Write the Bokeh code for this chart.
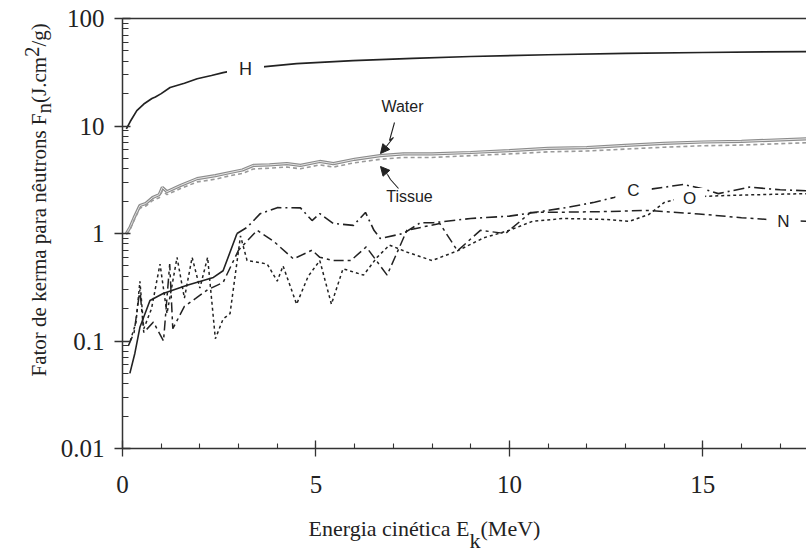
import math
from bokeh.plotting import figure
from bokeh.layouts import row, column
from bokeh.models import (FixedTicker, LinearAxis, Label, Arrow, NormalHead,
                          CustomJSTickFormatter, Range1d)
from bokeh.core.properties import value
from bokeh.embed import file_html
from bokeh.resources import INLINE

# ---------------- data ----------------
X_TICKS = [0, 5, 10, 15]
Y_TICKS = [0.01, 0.1, 1, 10, 100]

H_E = [0.1, 0.2, 0.37, 0.55, 0.76, 0.85, 1.0, 1.23, 1.6, 1.93, 2.3, 2.6, 3.0, 3.69, 4.5, 5.96, 7.5, 9.0, 11.0, 13.0, 15.0, 17.7]
H_F = [9.4, 11.0, 13.9, 16.0, 18.0, 18.6, 20.0, 22.8, 25.0, 27.5, 29.5, 31.4, 33.5, 35.7, 38.0, 40.6, 42.5, 44.3, 46.0, 47.3, 48.3, 49.3]

W_E = [0.1, 0.2, 0.3, 0.45, 0.6, 0.78, 0.95, 1.03, 1.15, 1.5, 1.93, 2.4, 2.78, 3.1, 3.38, 3.8, 4.25, 4.6, 5.1, 5.45, 6.0, 6.66, 7.26, 8.0, 9.0, 10.0, 11.0, 12.0, 13.0, 14.0, 15.0, 16.0, 17.7]
W_F = [1.0, 1.15, 1.4, 1.82, 1.9, 2.16, 2.3, 2.68, 2.45, 2.8, 3.24, 3.45, 3.69, 3.9, 4.3, 4.35, 4.47, 4.3, 4.68, 4.47, 4.9, 5.3, 5.5, 5.5, 5.67, 5.9, 6.2, 6.3, 6.6, 6.9, 7.1, 7.2, 7.6]
T_F = [0.98, 1.1, 1.33, 1.72, 1.8, 2.03, 2.15, 2.5, 2.3, 2.62, 3.02, 3.2, 3.45, 3.62, 3.98, 4.05, 4.15, 4.0, 4.35, 4.15, 4.55, 4.9, 5.1, 5.1, 5.3, 5.5, 5.75, 5.85, 6.1, 6.35, 6.55, 6.65, 7.0]

C_E = [0.19, 0.32, 0.45, 0.71, 1.05, 1.67, 2.35, 2.6, 2.96, 3.22, 3.56, 4.0, 4.6, 4.9, 5.1, 5.45, 5.97, 6.28, 6.5, 6.66, 7.26, 7.7, 8.04, 9.0, 10.0, 10.55, 11.5, 12.2, 12.7, 13.2, 13.7, 14.5, 15.0, 15.4, 16.2, 17.0, 17.7]
C_F = [0.05, 0.077, 0.134, 0.238, 0.277, 0.33, 0.39, 0.45, 1.0, 1.14, 1.53, 1.74, 1.73, 1.32, 1.53, 1.24, 1.19, 1.57, 1.07, 0.9, 1.0, 1.26, 1.26, 1.38, 1.45, 1.55, 1.75, 1.95, 2.16, 2.4, 2.6, 2.86, 2.6, 2.35, 2.7, 2.55, 2.5]

N_E = [0.15, 0.3, 0.45, 0.55, 0.8, 1.06, 1.22, 1.3, 1.6, 1.9, 2.2, 2.6, 3.0, 3.48, 3.9, 4.42, 4.9, 5.1, 5.45, 5.9, 6.3, 6.84, 7.35, 8.2, 8.66, 9.25, 9.9, 10.55, 11.5, 12.5, 13.6, 14.9, 16.0, 17.1, 17.7]
N_F = [0.09, 0.12, 0.3, 0.12, 0.15, 0.1, 0.52, 0.13, 0.21, 0.25, 0.3, 0.35, 0.7, 1.07, 0.85, 0.58, 0.70, 0.60, 0.56, 0.56, 0.75, 0.41, 1.07, 1.24, 0.69, 1.07, 1.0, 1.57, 1.58, 1.6, 1.64, 1.52, 1.4, 1.32, 1.3]

O_E = [0.2, 0.35, 0.45, 0.55, 0.75, 0.97, 1.15, 1.41, 1.6, 1.8, 2.0, 2.2, 2.4, 2.6, 2.78, 3.05, 3.22, 3.74, 4.0, 4.15, 4.5, 4.8, 5.1, 5.4, 5.7, 6.23, 6.58, 6.9, 7.36, 8.0, 8.66, 9.33, 10.0, 10.6, 11.4, 12.5, 13.1, 13.6, 14.0, 14.35, 14.9, 15.5, 16.5, 17.7]
O_F = [0.1, 0.15, 0.36, 0.13, 0.2, 0.52, 0.18, 0.60, 0.25, 0.60, 0.31, 0.60, 0.105, 0.16, 0.18, 0.95, 0.56, 0.52, 0.36, 0.50, 0.22, 0.4, 0.56, 0.22, 0.47, 0.41, 0.6, 0.78, 0.67, 0.56, 0.69, 0.91, 1.07, 1.3, 1.38, 1.35, 1.3, 1.5, 1.94, 2.1, 2.2, 2.25, 2.3, 2.35]

X_TITLE = ["Energia cinética E", "k", "(MeV)"]
Y_TITLE = ["Fator de kerma para nêutrons F", "n", "(J.cm", "2", "/g)"]

# ---------------- layout (canvas pixels) ----------------
W, HGT = 806, 552
YW = 56            # strip holding the y title
XH = 37            # strip holding the x title
FL, FR, FT, FB = 122, 806, 18, 448
X0, X1 = 0.0, 17.68
Y0, Y1 = 0.01, 100.0


def dx(px):
    return X0 + (px - FL) / (FR - FL) * (X1 - X0)


def dy(py):
    return 10 ** (math.log10(Y1) - (py - FT) / (FB - FT) * (math.log10(Y1) - math.log10(Y0)))


p = figure(width=W - YW, height=HGT - XH, x_range=Range1d(X0, X1), y_range=Range1d(Y0, Y1),
           y_axis_type="log", output_backend="svg", toolbar_location=None,
           min_border_left=FL - YW, min_border_right=0, min_border_top=FT,
           min_border_bottom=HGT - XH - FB)
p.title.visible = False
p.outline_line_color = None
p.grid.visible = False
p.background_fill_color = "white"
p.border_fill_color = "white"

AX = "#333333"
SERIF = "Liberation Serif"
SANS = "Liberation Sans"
INK = "#222222"

xa = p.xaxis[0]
xa.ticker = FixedTicker(ticks=X_TICKS, minor_ticks=list(range(1, 18)))
ya = p.yaxis[0]
ya.ticker = FixedTicker(ticks=Y_TICKS,
                        minor_ticks=[k * 10 ** d for d in range(-2, 2) for k in range(2, 10)])
ya.formatter = CustomJSTickFormatter(code="return String(tick)")
for ax in (xa, ya):
    ax.axis_line_color = AX
    ax.axis_line_width = 1.5
    ax.major_tick_line_color = AX
    ax.minor_tick_line_color = AX
    ax.major_tick_line_width = 1.3
    ax.minor_tick_line_width = 1.1
    ax.major_tick_in = 8
    ax.major_tick_out = 8
    ax.minor_tick_in = 6
    ax.minor_tick_out = 0
    ax.major_label_text_font = SERIF
    ax.major_label_text_font_size = "25px"
    ax.major_label_text_color = INK
xa.major_label_standoff = 19
ya.major_label_standoff = 10
xa.minor_tick_in = 5

top = LinearAxis(ticker=FixedTicker(ticks=[]), axis_line_color=AX, axis_line_width=1.5,
                 major_tick_in=0, major_tick_out=0, minor_tick_in=0, minor_tick_out=0,
                 major_label_text_font_size="0px")
p.add_layout(top, "above")

# H
p.line(H_E, H_F, line_color=INK, line_width=1.7)
# Water (double grey line) and Tissue (dashed grey)
p.line(W_E, W_F, line_color="#8c8c8c", line_width=3.2)
p.line(W_E, W_F, line_color="#e6e6e6", line_width=1.0)
p.line(W_E, T_F, line_color="#9a9a9a", line_width=1.6, line_dash="4 3")
# C : solid at low energy then long dash-dot
k = C_E.index(2.96) + 1
p.line(C_E[:k], C_F[:k], line_color=INK, line_width=1.6)
p.line(C_E[k - 1:], C_F[k - 1:], line_color=INK, line_width=1.6, line_dash="11 4 2 4")
# N : long dash - short dash
p.line(N_E, N_F, line_color=INK, line_width=1.5, line_dash="10 4 3 4")
# O : short dashes
p.line(O_E, O_F, line_color=INK, line_width=1.5, line_dash="3 3")


def lab(px, py, text, size, pad):
    p.add_layout(Label(x=dx(px), y=dy(py), text=text, text_font=SANS,
                       text_font_size=size, text_color=INK, text_align="center",
                       text_baseline="middle", background_fill_color="white",
                       padding=pad))


lab(245, 68, "H", "18px", (12, 2))
lab(633, 190, "C", "17px", (12, 2))
lab(689, 198, "O", "17px", (9, 1))
lab(783, 221, "N", "17px", (11, 2))
p.add_layout(Label(x=dx(402), y=dy(106), text="Water", text_font=SANS, text_font_size="16px",
                   text_color=INK, text_align="center", text_baseline="middle"))
p.add_layout(Label(x=dx(409), y=dy(196), text="Tissue", text_font=SANS, text_font_size="16px",
                   text_color=INK, text_align="center", text_baseline="middle"))

# arrows
p.line([dx(394), dx(389), dx(393), dx(385)], [dy(122), dy(140), dy(137), dy(147)],
       line_color=INK, line_width=1.1)
p.add_layout(Arrow(end=NormalHead(size=9, fill_color=INK, line_color=INK),
                   x_start=dx(385), y_start=dy(147), x_end=dx(380), y_end=dy(153),
                   line_color=INK, line_width=1.1))
p.line([dx(398), dx(390), dx(387)], [dy(188), dy(179), dy(174)], line_color=INK, line_width=1.1)
p.add_layout(Arrow(end=NormalHead(size=9, fill_color=INK, line_color=INK),
                   x_start=dx(387), y_start=dy(174), x_end=dx(380), y_end=dy(166),
                   line_color=INK, line_width=1.1))


def strip(width, height, xr, yr):
    f = figure(width=width, height=height, x_range=Range1d(*xr), y_range=Range1d(*yr),
               x_axis_type=None, y_axis_type=None, output_backend="svg",
               toolbar_location=None, min_border=0)
    f.title.visible = False
    f.outline_line_color = None
    f.grid.visible = False
    f.background_fill_color = "white"
    f.border_fill_color = "white"
    return f


# x title strip: its frame is aligned with the main frame (x 122..806)
xs = strip(W - YW, XH, (FL, FR), (HGT, HGT - XH))
xs.text(x=[308, 469, 480], y=[528, 540, 528], text=X_TITLE,
        text_font=value(SERIF), text_font_size=value("22px"), text_color=INK,
        text_align="left", text_baseline="alphabetic")

# y title strip (rotated pieces)
ys = strip(YW, HGT, (0, YW), (HGT, 0))
ys.text(x=[38, 43, 38, 31, 38], y=[376, 113, 102.5, 56.5, 46], text=Y_TITLE,
        angle=math.pi / 2, text_font=value(SERIF), text_font_size=value("21px"),
        text_color=INK, text_align="left", text_baseline="alphabetic")

layout = row(ys, column(p, xs, spacing=0), spacing=0)
open("out.html", "w").write(file_html(layout, INLINE))
